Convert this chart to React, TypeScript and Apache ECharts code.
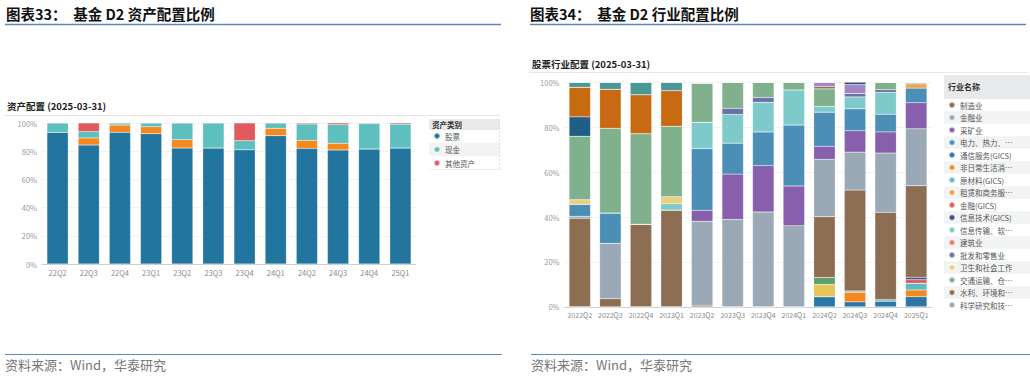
import React, { useEffect, useRef } from "react";
import * as echarts from "echarts";

const FONT = "'Noto Sans CJK SC', 'Noto Sans', sans-serif";

// ---------- Left chart: asset allocation ----------
const quartersShort = ["22Q2", "22Q3", "22Q4", "23Q1", "23Q2", "23Q3", "23Q4", "24Q1", "24Q2", "24Q3", "24Q4", "25Q1"];
const stockPct = [93.4, 84.4, 93.4, 92.4, 82.3, 82.3, 81.1, 91.0, 82.0, 80.9, 81.6, 82.3];
const bondPct = [0, 5.0, 5.2, 5.0, 5.9, 0, 0, 5.2, 5.7, 4.7, 0, 0];
const cashPct = [6.6, 4.5, 1.4, 2.6, 11.8, 17.7, 6.4, 3.8, 11.6, 13.2, 17.9, 16.8];
const otherPct = [0, 6.1, 0, 0, 0, 0, 12.5, 0, 0.7, 1.2, 0.5, 0.9];
const assetLegend = ["股票", "现金", "其他资产"];

// ---------- Right chart: industry allocation ----------
const quartersLong = ["2022Q2", "2022Q3", "2022Q4", "2023Q1", "2023Q2", "2023Q3", "2023Q4", "2024Q1", "2024Q2", "2024Q3", "2024Q4", "2025Q1"];
const telecomGics = [0, 0, 0, 0, 0, 0, 0, 0, 4.5, 2.2, 2.5, 4.5];
const consumerDiscGics = [0, 0, 0, 0, 0, 0, 0, 0, 0, 4.3, 0, 3.0];
const materialsGics = [0, 0, 0, 0, 0, 0, 0, 0, 0, 0.6, 0.7, 3.0];
const healthGics = [0, 0, 0, 0, 0, 0, 0, 0, 5.5, 0, 0, 0];
const industrialsGics = [0, 0, 0, 0, 0, 0, 0, 0, 3.1, 0, 0, 0];
const financeGics = [0, 0, 0, 0, 0, 0, 0, 0, 0, 0, 0, 1.6];
const itGics = [0, 0, 0, 0, 0, 0, 0, 0, 0, 0, 0, 1.0];
const manufacturing = [39.4, 3.6, 36.8, 43.1, 0.7, 0, 0, 0, 27.0, 44.9, 38.9, 40.8];
const finance = [0.9, 24.7, 0, 0, 37.4, 38.9, 42.2, 36.1, 25.6, 16.9, 26.4, 25.4];
const mining = [0, 0, 0, 0, 4.9, 20.2, 20.7, 17.7, 5.8, 9.5, 9.4, 11.6];
const utilities = [5.3, 13.5, 0, 0, 27.5, 13.8, 15.0, 27.2, 15.2, 9.8, 7.9, 6.5];
const leasing = [0, 0, 0, 0, 0, 0, 0, 0, 0, 0, 0, 1.9];
const infoTech = [0, 0, 0, 2.8, 11.7, 12.8, 13.2, 15.6, 2.5, 5.3, 9.7, 0.7];
const healthCare = [2.1, 0, 0, 3.1, 0, 0, 0, 0, 0, 0, 0, 0];
const wholesale = [0, 0, 0, 0, 0, 2.7, 2.1, 0, 0, 1.5, 1.2, 0];
const transport = [28.3, 37.7, 40.3, 31.4, 17.4, 11.6, 6.8, 3.4, 7.9, 0, 3.3, 0];
const culture = [8.6, 0, 0, 0, 0, 0, 0, 0, 0, 0, 0, 0];
const realEstate = [13.2, 17.4, 17.4, 15.9, 0, 0, 0, 0, 0, 0, 0, 0];
const water = [0, 0, 0, 0, 0, 0, 0, 0, 1.0, 0, 0, 0];
const conglomerate = [0, 0, 0, 0, 0, 0, 0, 0, 1.9, 4.0, 0, 0];
const agriculture = [2.2, 3.1, 5.5, 3.7, 0, 0, 0, 0, 0, 0, 0, 0];
const construction = [0, 0, 0, 0, 0, 0, 0, 0, 0, 0, 0, 0];
const research = [0, 0, 0, 0, 0, 0, 0, 0, 0, 0, 0, 0];
const hospitality = [0, 0, 0, 0, 0, 0, 0, 0, 0, 1.0, 0, 0];
const education = [0, 0, 0, 0, 0.4, 0, 0, 0, 0, 0, 0, 0];

const industrySeries = [
  { name: "通信服务(GICS)", color: "#2a76a6", data: telecomGics },
  { name: "非日常生活消费品(GICS)", color: "#f5891f", data: consumerDiscGics },
  { name: "原材料(GICS)", color: "#5dbdbd", data: materialsGics },
  { name: "医疗保健(GICS)", color: "#e6c65a", data: healthGics },
  { name: "工业(GICS)", color: "#5e9e6c", data: industrialsGics },
  { name: "金融(GICS)", color: "#e05a5f", data: financeGics },
  { name: "信息技术(GICS)", color: "#3b4c8c", data: itGics },
  { name: "制造业", color: "#8e6e52", data: manufacturing },
  { name: "金融业", color: "#9ba8b5", data: finance },
  { name: "采矿业", color: "#875fac", data: mining },
  { name: "电力、热力、燃气及水生产和供应业", color: "#4b8fb7", data: utilities },
  { name: "租赁和商务服务业", color: "#f3a44a", data: leasing },
  { name: "信息传输、软件和信息技术服务业", color: "#7ecaca", data: infoTech },
  { name: "卫生和社会工作", color: "#ead07c", data: healthCare },
  { name: "批发和零售业", color: "#6a70a8", data: wholesale },
  { name: "交通运输、仓储和邮政业", color: "#80b18c", data: transport },
  { name: "文化、体育和娱乐业", color: "#1f5f85", data: culture },
  { name: "房地产业", color: "#c86a12", data: realEstate },
  { name: "水利、环境和公共设施管理业", color: "#8e6e52", data: water },
  { name: "综合", color: "#a386c4", data: conglomerate },
  { name: "农、林、牧、渔业", color: "#4b9797", data: agriculture },
  { name: "教育", color: "#f0b87a", data: education },
  { name: "建筑业", color: "#e57b7b", data: construction },
  { name: "科学研究和技术服务业", color: "#9ba8b5", data: research },
  { name: "住宿和餐饮业", color: "#2c3d78", data: hospitality },
];

const industryLegend = [
  "制造业", "金融业", "采矿业", "电力、热力、燃气及水生产和供应业", "通信服务(GICS)",
  "非日常生活消费品(GICS)", "原材料(GICS)", "租赁和商务服务业", "金融(GICS)", "信息技术(GICS)",
  "信息传输、软件和信息技术服务业", "建筑业", "批发和零售业", "卫生和社会工作",
  "交通运输、仓储和邮政业", "水利、环境和公共设施管理业", "科学研究和技术服务业",
];

const yTicks = { min: 0, max: 100, interval: 20 };

export default function App() {
  const ref = useRef<HTMLDivElement>(null);
  useEffect(() => {
    document.body.style.margin = "0";
    if (!ref.current) return;
    const chart = echarts.init(ref.current, undefined, { renderer: "svg" });

    const axisX = (gridIndex: number, data: string[], fontSize: number) => ({
      type: "category",
      gridIndex,
      data,
      axisLine: { lineStyle: { color: "#cfcfcf" } },
      axisTick: { length: 3, lineStyle: { color: "#cfcfcf" } },
      axisLabel: { fontSize, color: "#8a8a8a", margin: 5, interval: 0, fontFamily: FONT },
    });
    const axisY = (gridIndex: number) => ({
      type: "value",
      gridIndex,
      ...yTicks,
      axisLine: { show: false },
      axisTick: { show: false },
      axisLabel: { fontSize: 7.5, color: "#9a9a9a", margin: 5, formatter: "{value}%", fontFamily: FONT },
      splitLine: { lineStyle: { color: "#f3f3f3" } },
    });

    const barBase = {
      type: "bar",
      barCategoryGap: "32%",
      itemStyle: { borderColor: "rgba(255,255,255,0.45)", borderWidth: 0.4 },
      emphasis: { disabled: true },
    };

    const leftSeries = [
      { name: "股票", color: "#21759f", data: stockPct },
      { name: "债券", color: "#f5891f", data: bondPct },
      { name: "现金", color: "#5ebfbf", data: cashPct },
      { name: "其他资产", color: "#e05a5f", data: otherPct },
    ].map((s) => ({
      ...barBase,
      name: s.name,
      stack: "asset",
      xAxisIndex: 0,
      yAxisIndex: 0,
      data: s.data,
      itemStyle: { ...barBase.itemStyle, color: s.color },
    }));

    const rightSeries = industrySeries.map((s) => ({
      ...barBase,
      name: s.name,
      stack: "industry",
      barCategoryGap: "30%",
      xAxisIndex: 1,
      yAxisIndex: 1,
      data: s.data,
      itemStyle: { ...barBase.itemStyle, color: s.color },
    }));

    const blue = "#5a87b8";
    const graphics: any[] = [];
    graphics.push(
      { type: "text", left: 6, top: 6, style: { text: "图表33：  基金 D2 资产配置比例", font: `bold 14.5px ${FONT}`, fill: "#111" } },
      { type: "text", left: 530, top: 6, style: { text: "图表34：  基金 D2 行业配置比例", font: `bold 14.5px ${FONT}`, fill: "#111" } },
      { type: "line", shape: { x1: 5, y1: 24.5, x2: 501, y2: 24.5 }, style: { stroke: blue, lineWidth: 1.5 } },
      { type: "line", shape: { x1: 530, y1: 24.5, x2: 1026, y2: 24.5 }, style: { stroke: blue, lineWidth: 1.5 } },
      { type: "line", shape: { x1: 5, y1: 354.5, x2: 502, y2: 354.5 }, style: { stroke: blue, lineWidth: 1.2 } },
      { type: "line", shape: { x1: 531, y1: 354.5, x2: 1030, y2: 354.5 }, style: { stroke: blue, lineWidth: 1.2 } },
      { type: "text", left: 5, top: 358, style: { text: "资料来源：Wind，华泰研究", font: `13px ${FONT}`, fill: "#777" } },
      { type: "text", left: 531, top: 358, style: { text: "资料来源：Wind，华泰研究", font: `13px ${FONT}`, fill: "#777" } },
      { type: "text", left: 7, top: 101, style: { text: "资产配置 (2025-03-31)", font: `bold 9.5px ${FONT}`, fill: "#222" } },
      { type: "line", shape: { x1: 5, y1: 115.5, x2: 500, y2: 115.5 }, style: { stroke: "#e6e6e6", lineWidth: 1 } },
      { type: "text", left: 532, top: 59, style: { text: "股票行业配置 (2025-03-31)", font: `bold 9.5px ${FONT}`, fill: "#222" } },
      { type: "line", shape: { x1: 529, y1: 72.5, x2: 1028, y2: 72.5 }, style: { stroke: "#e6e6e6", lineWidth: 1 } },
      { type: "rect", z: -1, shape: { x: 429, y: 119, width: 71, height: 11 }, style: { fill: "#e8e9ea" } },
      { type: "text", left: 432, top: 120.5, style: { text: "资产类别", font: `bold 7.5px ${FONT}`, fill: "#333" } },
      { type: "rect", z: -1, shape: { x: 429, y: 142.8, width: 71, height: 13.5 }, style: { fill: "#f2f3f3" } },
      { type: "line", shape: { x1: 429, y1: 169.5, x2: 500, y2: 169.5 }, style: { stroke: "#ececec", lineWidth: 1 } },
      { type: "line", shape: { x1: 499.5, y1: 119, x2: 499.5, y2: 170 }, style: { stroke: "#d8d8d8", lineWidth: 0.8, lineDash: [2, 2] } },
      { type: "rect", z: -1, shape: { x: 944, y: 75, width: 86, height: 24 }, style: { fill: "#e8e9ea" } },
      { type: "text", left: 948, top: 82.5, style: { text: "行业名称", font: `bold 8px ${FONT}`, fill: "#333" } }
    );
    for (let i = 1; i < industryLegend.length; i += 2) {
      graphics.push({ type: "rect", z: -1, shape: { x: 944, y: 98.75 + 12.5 * i, width: 86, height: 12.5 }, style: { fill: "#f2f3f3" } });
    }

    chart.setOption({
      animation: false,
      textStyle: { fontFamily: FONT },
      grid: [
        { left: 42, top: 123, width: 374, height: 141 },
        { left: 564.5, top: 82.3, width: 367, height: 224.5 },
      ],
      xAxis: [axisX(0, quartersShort, 7.5), axisX(1, quartersLong, 7)],
      yAxis: [axisY(0), axisY(1)],
      legend: [
        {
          data: assetLegend,
          orient: "vertical",
          left: 433,
          top: 129.25,
          padding: 0,
          itemGap: 0,
          itemWidth: 6,
          itemHeight: 6,
          icon: "circle",
          selectedMode: false,
          textStyle: { fontSize: 7.5, color: "#555", lineHeight: 13.5, fontFamily: FONT },
        },
        {
          data: industryLegend,
          orient: "vertical",
          left: 948,
          top: 98.75,
          padding: 0,
          itemGap: 0,
          itemWidth: 6,
          itemHeight: 6,
          icon: "circle",
          selectedMode: false,
          textStyle: { fontSize: 7.5, color: "#555", lineHeight: 12.5, width: 54, overflow: "truncate", ellipsis: "…", fontFamily: FONT },
        },
      ],
      graphic: graphics,
      series: [...leftSeries, ...rightSeries],
    });
    return () => chart.dispose();
  }, []);
  return <div ref={ref} style={{ width: 1030, height: 378 }} />;
}
